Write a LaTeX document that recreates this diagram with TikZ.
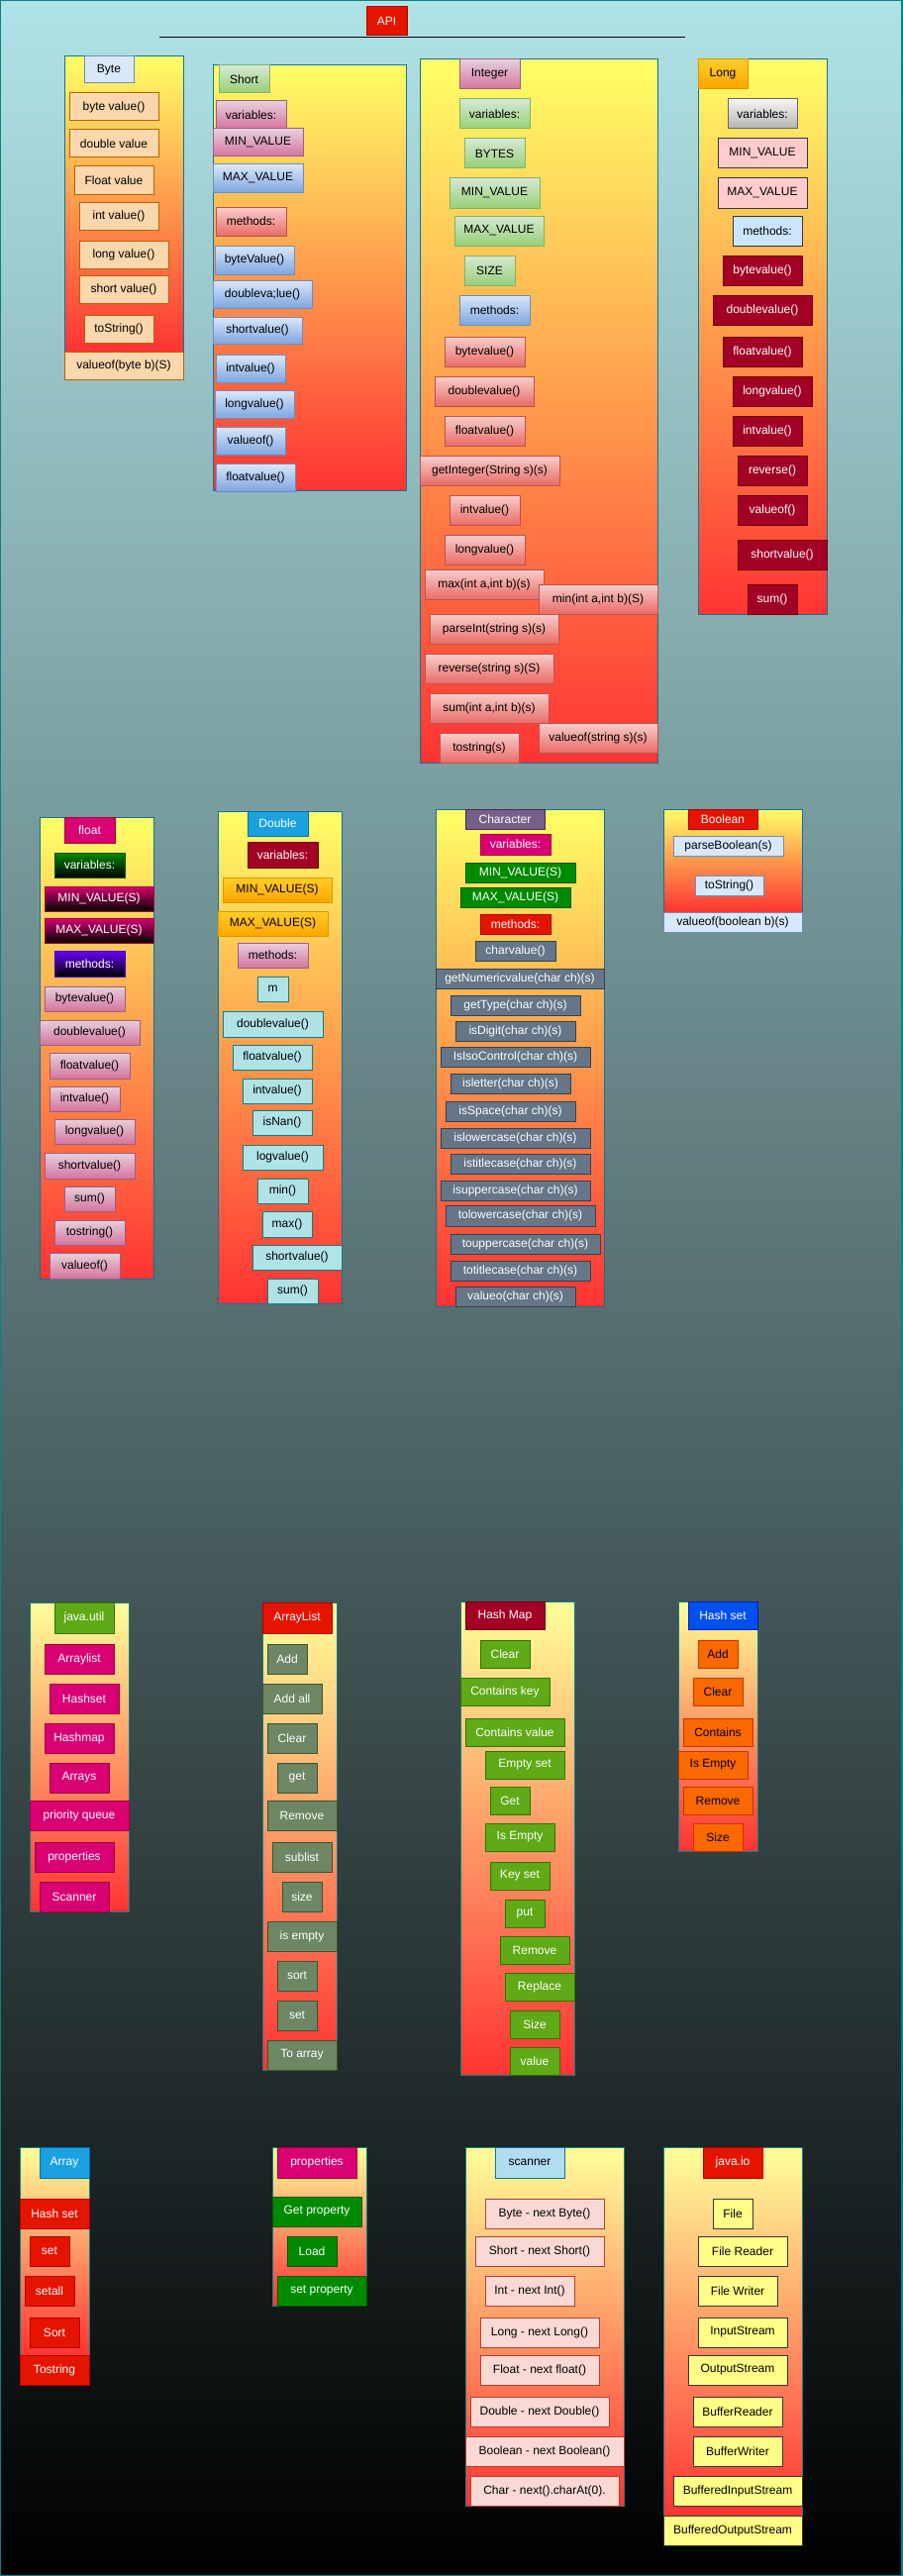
\documentclass[tikz,border=0pt]{standalone}
\usepackage{fontspec}
\setmainfont{Liberation Sans}

% palette
\definecolor{cBgTop}{HTML}{B0E3E6}
\definecolor{cFrame}{HTML}{0E8088}
\definecolor{cContA}{HTML}{10739E}
\definecolor{cYelA}{HTML}{FFFF66}
\definecolor{cYelB}{HTML}{FFFF99}
\definecolor{cRedEnd}{HTML}{FF3333}
\definecolor{cPeachF}{HTML}{FAD7AC}\definecolor{cPeachD}{HTML}{B46504}
\definecolor{cBlueLtF}{HTML}{DAE8FC}\definecolor{cBlueLtD}{HTML}{6C8EBF}\definecolor{cBlueGB}{HTML}{7EA6E0}
\definecolor{cGreenT}{HTML}{D5E8D4}\definecolor{cGreenB}{HTML}{97D077}\definecolor{cGreenD}{HTML}{82B366}
\definecolor{cPinkT}{HTML}{E6D0DE}\definecolor{cPinkB}{HTML}{D5739D}\definecolor{cPinkD}{HTML}{996185}
\definecolor{cRedT}{HTML}{F8CECC}\definecolor{cRedB}{HTML}{EA6B66}\definecolor{cRedD}{HTML}{B85450}
\definecolor{cOrT}{HTML}{FFCD28}\definecolor{cOrB}{HTML}{FFA500}\definecolor{cOrD}{HTML}{D79B00}
\definecolor{cGrT}{HTML}{F5F5F5}\definecolor{cGrB}{HTML}{B3B3B3}\definecolor{cGrD}{HTML}{666666}
\definecolor{cRose}{HTML}{FFCCCC}\definecolor{cInk}{HTML}{36393D}\definecolor{cIce}{HTML}{CCE5FF}
\definecolor{cCrimF}{HTML}{A20025}\definecolor{cCrimD}{HTML}{6F0000}
\definecolor{cMagF}{HTML}{D80073}\definecolor{cMagD}{HTML}{A50040}
\definecolor{cEmF}{HTML}{008A00}\definecolor{cEmD}{HTML}{005700}
\definecolor{cVioF}{HTML}{6A00FF}\definecolor{cVioD}{HTML}{3700CC}
\definecolor{cCyF}{HTML}{1BA1E2}\definecolor{cCyD}{HTML}{006EAF}
\definecolor{cTealF}{HTML}{B0E3E6}\definecolor{cTealD}{HTML}{0E8088}
\definecolor{cPurF}{HTML}{76608A}\definecolor{cPurD}{HTML}{432D57}
\definecolor{cRF}{HTML}{E51400}\definecolor{cRD}{HTML}{B20000}
\definecolor{cSlF}{HTML}{647687}\definecolor{cSlD}{HTML}{314354}
\definecolor{cLimF}{HTML}{60A917}\definecolor{cLimD}{HTML}{2D7600}
\definecolor{cOlF}{HTML}{6D8764}\definecolor{cOlD}{HTML}{3A5431}
\definecolor{cCoF}{HTML}{0050EF}\definecolor{cCoD}{HTML}{001DBC}
\definecolor{cTanF}{HTML}{FA6800}\definecolor{cTanD}{HTML}{C73500}
\definecolor{cSkF}{HTML}{B1DDF0}\definecolor{cSkD}{HTML}{10739E}
\definecolor{cSaF}{HTML}{FAD9D5}\definecolor{cSaD}{HTML}{AE4132}
\definecolor{cLemF}{HTML}{FFFF88}

% box from corner (x1,y1) to corner (x2,y2), given in pixel units
\newcommand\bx[7]{\node[#6, minimum width={(#4-#2)*0.75pt}, minimum height={(#5-#3)*0.75pt}] (#1) at ({(#2+#4)/2},{(#3+#5)/2}) {#7};}

\begin{document}
\begin{tikzpicture}[x=0.75pt,y=-0.75pt,
  base/.style={draw, line width=0.75pt, inner sep=0pt, outer sep=0pt, font=\fontsize{9}{10}\selectfont, text=black},
  contA/.style={base, draw=cContA, top color=cYelA, bottom color=cRedEnd},
  contB/.style={base, draw=cFrame, top color=cYelB, bottom color=cRedEnd},
  sPeachOr/.style={base, fill=cPeachF, draw=cPeachD},
  sBlueLt/.style={base, fill=cBlueLtF, draw=cBlueLtD},
  gGreen/.style={base, top color=cGreenT, bottom color=cGreenB, draw=cGreenD},
  gPink/.style={base, top color=cPinkT, bottom color=cPinkB, draw=cPinkD},
  gBlue/.style={base, top color=cBlueLtF, bottom color=cBlueGB, draw=cBlueLtD},
  gRed/.style={base, top color=cRedT, bottom color=cRedB, draw=cRedD},
  gOrange/.style={base, top color=cOrT, bottom color=cOrB, draw=cOrD},
  gGray/.style={base, top color=cGrT, bottom color=cGrB, draw=cGrD},
  sRose/.style={base, fill=cRose, draw=cInk},
  sIce/.style={base, fill=cIce, draw=cInk},
  sCrimson/.style={base, fill=cCrimF, draw=cCrimD, text=white},
  sMagenta/.style={base, fill=cMagF, draw=cMagD, text=white},
  gEmDark/.style={base, top color=cEmF, bottom color=black, draw=cEmD, text=white},
  gMagDark/.style={base, top color=cMagF, bottom color=black, draw=cMagD, text=white},
  gVioDark/.style={base, top color=cVioF, bottom color=black, draw=cVioD, text=white},
  sCyan/.style={base, fill=cCyF, draw=cCyD, text=white},
  sTeal/.style={base, fill=cTealF, draw=cTealD},
  sPurple/.style={base, fill=cPurF, draw=cPurD, text=white},
  sEmerald/.style={base, fill=cEmF, draw=cEmD, text=white},
  sRed/.style={base, fill=cRF, draw=cRD, text=white},
  sSlate/.style={base, fill=cSlF, draw=cSlD, text=white},
  sLime/.style={base, fill=cLimF, draw=cLimD, text=white},
  sOlive/.style={base, fill=cOlF, draw=cOlD, text=white},
  sCobalt/.style={base, fill=cCoF, draw=cCoD, text=white},
  sTangerine/.style={base, fill=cTanF, draw=cTanD},
  sSky/.style={base, fill=cSkF, draw=cSkD},
  sSalmon/.style={base, fill=cSaF, draw=cSaD},
  sLemon/.style={base, fill=cLemF, draw=cInk}]

\useasboundingbox (0,0) rectangle (911,2601);
% page background
\path[draw=cFrame, line width=1.5pt, top color=cBgTop, bottom color=black] (0,0) rectangle (911,2601);

% title and rule
\bx{api}{370}{7}{411}{36}{sRed}{API}
\coordinate (ruleL) at (161,38);
\coordinate (ruleR) at (692,38);
\draw[line width=0.75pt, black] (ruleL) -- (ruleR);

% ---------- Byte ----------
\bx{byteC}{65}{57}{185}{355}{contA}{}
\bx{byteH}{85}{57}{135}{84}{sBlueLt}{Byte}
\bx{byte1}{70}{94}{160}{122}{sPeachOr}{byte value()}
\bx{byte2}{70}{131}{160}{159}{sPeachOr}{double value}
\bx{byte3}{75}{168}{155}{196}{sPeachOr}{Float value}
\bx{byte4}{80}{204}{160}{232}{sPeachOr}{int value()}
\bx{byte5}{80}{243}{170}{271}{sPeachOr}{long value()}
\bx{byte6}{80}{278}{170}{306}{sPeachOr}{short value()}
\bx{byte7}{85}{318}{155}{346}{sPeachOr}{toString()}
\bx{byte8}{65}{355}{185}{383}{sPeachOr}{valueof(byte b)(S)}

% ---------- Short ----------
\bx{shortC}{215}{66}{410}{495}{contA}{}
\bx{shortH}{221}{66}{272}{94}{gGreen}{Short}
\bx{short1}{218}{102}{289}{130}{gPink}{variables:}
\bx{short2}{215}{130}{306}{158}{gPink}{MIN\_VALUE}
\bx{short3}{215}{166}{306}{194}{gBlue}{MAX\_VALUE}
\bx{short4}{218}{209}{289}{238}{gRed}{methods:}
\bx{short5}{217}{248}{297}{277}{gBlue}{byteValue()}
\bx{short6}{215}{283}{315}{311}{gBlue}{doubleva;lue()}
\bx{short7}{215}{320}{305}{347}{gBlue}{shortvalue()}
\bx{short8}{218}{358}{288}{386}{gBlue}{intvalue()}
\bx{short9}{217}{394}{297}{422}{gBlue}{longvalue()}
\bx{short10}{218}{431}{288}{459}{gBlue}{valueof()}
\bx{short11}{218}{468}{298}{496}{gBlue}{floatvalue()}

% ---------- Integer ----------
\bx{intC}{424}{60}{664}{770}{contA}{}
\bx{intH}{464}{60}{525}{90}{gPink}{Integer}
\bx{int1}{464}{100}{535}{130}{gGreen}{variables:}
\bx{int2}{469}{140}{530}{170}{gGreen}{BYTES}
\bx{int3}{454}{180}{545}{210}{gGreen}{MIN\_VALUE}
\bx{int4}{459}{218}{549}{248}{gGreen}{MAX\_VALUE}
\bx{int5}{469}{258}{520}{288}{gGreen}{SIZE}
\bx{int6}{464}{298}{535}{328}{gBlue}{methods:}
\bx{int7}{449}{340}{530}{370}{gRed}{bytevalue()}
\bx{int8}{439}{380}{539}{410}{gRed}{doublevalue()}
\bx{int9}{449}{420}{530}{450}{gRed}{floatvalue()}
\bx{int10}{424}{460}{565}{490}{gRed}{getInteger(String s)(s)}
\bx{int11}{454}{500}{525}{530}{gRed}{intvalue()}
\bx{int12}{449}{540}{530}{570}{gRed}{longvalue()}
\bx{int13}{429}{575}{549}{605}{gRed}{max(int a,int b)(s)}
\bx{int14}{544}{590}{664}{620}{gRed}{min(int a,int b)(S)}
\bx{int15}{434}{620}{564}{650}{gRed}{parseInt(string s)(s)}
\bx{int16}{429}{660}{559}{690}{gRed}{reverse(string s)(S)}
\bx{int17}{434}{700}{554}{730}{gRed}{sum(int a,int b)(s)}
\bx{int18}{444}{740}{524}{770}{gRed}{tostring(s)}
\bx{int19}{544}{730}{664}{760}{gRed}{valueof(string s)(s)}

% ---------- Long ----------
\bx{longC}{705}{60}{835}{620}{contA}{}
\bx{longH}{705}{60}{755}{90}{gOrange}{Long}
\bx{long1}{735}{100}{805}{130}{gGray}{variables:}
\bx{long2}{725}{140}{815}{170}{sRose}{MIN\_VALUE}
\bx{long3}{725}{180}{815}{210}{sRose}{MAX\_VALUE}
\bx{long4}{740}{218}{810}{248}{sIce}{methods:}
\bx{long5}{730}{258}{810}{288}{sCrimson}{bytevalue()}
\bx{long6}{720}{298}{820}{328}{sCrimson}{doublevalue()}
\bx{long7}{730}{340}{810}{370}{sCrimson}{floatvalue()}
\bx{long8}{740}{380}{820}{410}{sCrimson}{longvalue()}
\bx{long9}{740}{420}{810}{450}{sCrimson}{intvalue()}
\bx{long10}{745}{460}{815}{490}{sCrimson}{reverse()}
\bx{long11}{745}{500}{815}{530}{sCrimson}{valueof()}
\bx{long12}{745}{545}{835}{575}{sCrimson}{shortvalue()}
\bx{long13}{755}{590}{805}{620}{sCrimson}{sum()}

% ---------- float ----------
\bx{fltC}{40}{825}{155}{1291}{contA}{}
\bx{fltH}{65}{825}{116}{851}{sMagenta}{float}
\bx{flt1}{55}{861}{126}{886}{gEmDark}{variables:}
\bx{flt2}{45}{895}{155}{920}{gMagDark}{MIN\_VALUE(S)}
\bx{flt3}{45}{927}{155}{952}{gMagDark}{MAX\_VALUE(S)}
\bx{flt4}{55}{960}{126}{986}{gVioDark}{methods:}
\bx{flt5}{45}{996}{126}{1021}{gPink}{bytevalue()}
\bx{flt6}{40}{1030}{141}{1055}{gPink}{doublevalue()}
\bx{flt7}{50}{1063}{131}{1089}{gPink}{floatvalue()}
\bx{flt8}{50}{1097}{121}{1122}{gPink}{intvalue()}
\bx{flt9}{55}{1130}{136}{1155}{gPink}{longvalue()}
\bx{flt10}{45}{1164}{136}{1190}{gPink}{shortvalue()}
\bx{flt11}{65}{1198}{116}{1223}{gPink}{sum()}
\bx{flt12}{55}{1232}{126}{1257}{gPink}{tostring()}
\bx{flt13}{50}{1265}{121}{1291}{gPink}{valueof()}

% ---------- Double ----------
\bx{dblC}{220}{819}{345}{1316}{contA}{}
\bx{dblH}{250}{819}{311}{844}{sCyan}{Double}
\bx{dbl1}{250}{850}{321}{876}{sCrimson}{variables:}
\bx{dbl2}{225}{886}{335}{911}{gOrange}{MIN\_VALUE(S)}
\bx{dbl3}{220}{920}{331}{945}{gOrange}{MAX\_VALUE(S)}
\bx{dbl4}{240}{952}{311}{977}{gPink}{methods:}
\bx{dbl5}{260}{986}{291}{1011}{sTeal}{m}
\bx{dbl6}{225}{1021}{326}{1047}{sTeal}{doublevalue()}
\bx{dbl7}{235}{1055}{315}{1080}{sTeal}{floatvalue()}
\bx{dbl8}{245}{1089}{315}{1114}{sTeal}{intvalue()}
\bx{dbl9}{255}{1121}{315}{1146}{sTeal}{isNan()}
\bx{dbl10}{245}{1156}{326}{1181}{sTeal}{logvalue()}
\bx{dbl11}{260}{1190}{311}{1215}{sTeal}{min()}
\bx{dbl12}{265}{1223}{315}{1249}{sTeal}{max()}
\bx{dbl13}{255}{1257}{345}{1282}{sTeal}{shortvalue()}
\bx{dbl14}{270}{1291}{321}{1316}{sTeal}{sum()}

% ---------- Character ----------
\bx{chrC}{440}{817}{610}{1319}{contA}{}
\bx{chrH}{470}{817}{550}{837}{sPurple}{Character}
\bx{chr1}{485}{842}{556}{863}{sMagenta}{variables:}
\bx{chr2}{470}{871}{581}{891}{sEmerald}{MIN\_VALUE(S)}
\bx{chr3}{465}{896}{576}{916}{sEmerald}{MAX\_VALUE(S)}
\bx{chr4}{485}{923}{556}{943}{sRed}{methods:}
\bx{chr5}{480}{950}{561}{970}{sSlate}{charvalue()}
\bx{chr6}{440}{978}{610}{998}{sSlate}{getNumericvalue(char ch)(s)}
\bx{chr7}{455}{1005}{586}{1025}{sSlate}{getType(char ch)(s)}
\bx{chr8}{460}{1031}{581}{1051}{sSlate}{isDigit(char ch)(s)}
\bx{chr9}{445}{1057}{596}{1077}{sSlate}{IsIsoControl(char ch)(s)}
\bx{chr10}{455}{1084}{576}{1104}{sSlate}{isletter(char ch)(s)}
\bx{chr11}{450}{1112}{581}{1132}{sSlate}{isSpace(char ch)(s)}
\bx{chr12}{445}{1139}{596}{1159}{sSlate}{islowercase(char ch)(s)}
\bx{chr13}{455}{1165}{596}{1185}{sSlate}{istitlecase(char ch)(s)}
\bx{chr14}{445}{1192}{596}{1212}{sSlate}{isuppercase(char ch)(s)}
\bx{chr15}{450}{1217}{601}{1238}{sSlate}{tolowercase(char ch)(s)}
\bx{chr16}{455}{1246}{606}{1266}{sSlate}{touppercase(char ch)(s)}
\bx{chr17}{455}{1273}{596}{1293}{sSlate}{totitlecase(char ch)(s)}
\bx{chr18}{460}{1299}{581}{1319}{sSlate}{valueo(char ch)(s)}

% ---------- Boolean ----------
\bx{boolC}{670}{817}{810}{921}{contA}{}
\bx{boolH}{695}{817}{765}{837}{sRed}{Boolean}
\bx{bool1}{680}{844}{791}{864}{sBlueLt}{parseBoolean(s)}
\bx{bool2}{702}{884}{771}{904}{sBlueLt}{toString()}
\bx{bool3}{670}{921}{810}{941}{sBlueLt}{valueof(boolean b)(s)}

% ---------- java.util ----------
\bx{utilC}{30}{1618}{130}{1930}{contB}{}
\bx{utilH}{55}{1618}{115}{1649}{sLime}{java.util}
\bx{util1}{45}{1660}{115}{1690}{sMagenta}{Arraylist}
\bx{util2}{50}{1700}{120}{1730}{sMagenta}{Hashset}
\bx{util3}{45}{1740}{115}{1770}{sMagenta}{Hashmap}
\bx{util4}{50}{1780}{110}{1810}{sMagenta}{Arrays}
\bx{util5}{30}{1818}{130}{1848}{sMagenta}{priority queue}
\bx{util6}{35}{1860}{115}{1890}{sMagenta}{properties}
\bx{util7}{40}{1900}{110}{1930}{sMagenta}{Scanner}

% ---------- ArrayList ----------
\bx{alC}{265}{1618}{340}{2090}{contB}{}
\bx{alH}{265}{1618}{335}{1649}{sRed}{ArrayList}
\bx{al1}{270}{1660}{310}{1690}{sOlive}{Add}
\bx{al2}{265}{1700}{325}{1730}{sOlive}{Add all}
\bx{al3}{270}{1740}{320}{1770}{sOlive}{Clear}
\bx{al4}{280}{1780}{320}{1810}{sOlive}{get}
\bx{al5}{270}{1818}{340}{1848}{sOlive}{Remove}
\bx{al6}{275}{1860}{335}{1890}{sOlive}{sublist}
\bx{al7}{285}{1900}{325}{1930}{sOlive}{size}
\bx{al8}{270}{1940}{340}{1970}{sOlive}{is empty}
\bx{al9}{280}{1980}{320}{2010}{sOlive}{sort}
\bx{al10}{280}{2020}{320}{2050}{sOlive}{set}
\bx{al11}{270}{2060}{340}{2090}{sOlive}{To array}

% ---------- Hash Map ----------
\bx{hmC}{465}{1617}{580}{2095}{contB}{}
\bx{hmH}{470}{1617}{550}{1645}{sCrimson}{Hash Map}
\bx{hm1}{485}{1656}{535}{1684}{sLime}{Clear}
\bx{hm2}{465}{1694}{555}{1722}{sLime}{Contains key}
\bx{hm3}{470}{1735}{570}{1763}{sLime}{Contains value}
\bx{hm4}{490}{1768}{570}{1796}{sLime}{Empty set}
\bx{hm5}{495}{1804}{535}{1832}{sLime}{Get}
\bx{hm6}{490}{1841}{560}{1869}{sLime}{Is Empty}
\bx{hm7}{495}{1880}{555}{1908}{sLime}{Key set}
\bx{hm8}{510}{1918}{550}{1946}{sLime}{put}
\bx{hm9}{505}{1955}{575}{1983}{sLime}{Remove}
\bx{hm10}{510}{1992}{580}{2020}{sLime}{Replace}
\bx{hm11}{515}{2030}{565}{2058}{sLime}{Size}
\bx{hm12}{515}{2067}{565}{2095}{sLime}{value}

% ---------- Hash set ----------
\bx{hsC}{685}{1617}{765}{1869}{contB}{}
\bx{hsH}{695}{1617}{765}{1645}{sCobalt}{Hash set}
\bx{hs1}{705}{1656}{745}{1684}{sTangerine}{Add}
\bx{hs2}{700}{1694}{750}{1722}{sTangerine}{Clear}
\bx{hs3}{690}{1735}{760}{1763}{sTangerine}{Contains}
\bx{hs4}{685}{1768}{755}{1796}{sTangerine}{Is Empty}
\bx{hs5}{690}{1804}{760}{1832}{sTangerine}{Remove}
\bx{hs6}{700}{1841}{750}{1869}{sTangerine}{Size}

% ---------- Array ----------
\bx{arrC}{20}{2168}{90}{2378}{contB}{}
\bx{arrH}{40}{2168}{90}{2199}{sCyan}{Array}
\bx{arr1}{20}{2220}{90}{2250}{sRed}{Hash set}
\bx{arr2}{30}{2258}{70}{2288}{sRed}{set}
\bx{arr3}{25}{2298}{75}{2328}{sRed}{setall}
\bx{arr4}{30}{2340}{80}{2370}{sRed}{Sort}
\bx{arr5}{20}{2378}{90}{2408}{sRed}{Tostring}

% ---------- properties ----------
\bx{propC}{275}{2168}{370}{2328}{contB}{}
\bx{propH}{280}{2168}{360}{2199}{sMagenta}{properties}
\bx{prop1}{275}{2218}{365}{2248}{sEmerald}{Get property}
\bx{prop2}{290}{2258}{340}{2288}{sEmerald}{Load}
\bx{prop3}{280}{2298}{370}{2328}{sEmerald}{set property}

% ---------- scanner ----------
\bx{scnC}{470}{2168}{630}{2530}{contB}{}
\bx{scnH}{500}{2168}{570}{2199}{sSky}{scanner}
\bx{scn1}{490}{2220}{610}{2250}{sSalmon}{Byte - next Byte()}
\bx{scn2}{480}{2258}{610}{2288}{sSalmon}{Short - next Short()}
\bx{scn3}{490}{2298}{580}{2328}{sSalmon}{Int - next Int()}
\bx{scn4}{485}{2340}{605}{2370}{sSalmon}{Long - next Long()}
\bx{scn5}{485}{2378}{605}{2408}{sSalmon}{Float - next float()}
\bx{scn6}{475}{2420}{615}{2450}{sSalmon}{Double - next Double()}
\bx{scn7}{470}{2460}{630}{2490}{sSalmon}{Boolean - next Boolean()}
\bx{scn8}{475}{2500}{625}{2530}{sSalmon}{Char - next().charAt(0).}

% ---------- java.io ----------
\bx{ioC}{670}{2168}{810}{2540}{contB}{}
\bx{ioH}{710}{2168}{770}{2199}{sRed}{java.io}
\bx{io1}{720}{2220}{760}{2250}{sLemon}{File}
\bx{io2}{705}{2258}{795}{2288}{sLemon}{File Reader}
\bx{io3}{705}{2298}{785}{2328}{sLemon}{File Writer}
\bx{io4}{705}{2340}{795}{2370}{sLemon}{InputStream}
\bx{io5}{695}{2378}{795}{2408}{sLemon}{OutputStream}
\bx{io6}{700}{2420}{790}{2450}{sLemon}{BufferReader}
\bx{io7}{700}{2460}{790}{2490}{sLemon}{BufferWriter}
\bx{io8}{680}{2500}{810}{2530}{sLemon}{BufferedInputStream}
\bx{io9}{670}{2540}{810}{2570}{sLemon}{BufferedOutputStream}
\end{tikzpicture}
\end{document}
